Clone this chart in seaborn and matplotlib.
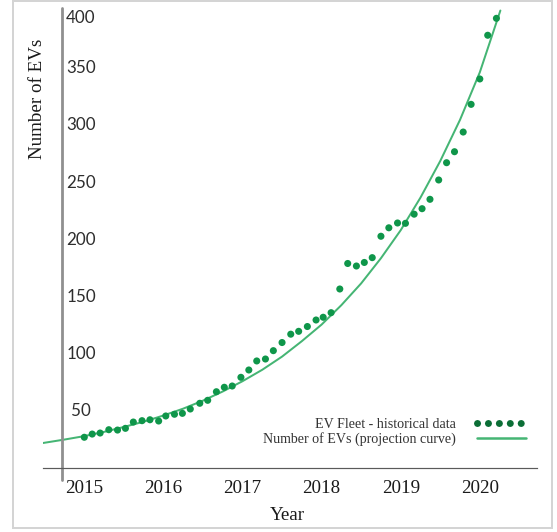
import seaborn as sns
import matplotlib.pyplot as plt
import matplotlib.transforms as mtransforms
from matplotlib.lines import Line2D
from matplotlib.patches import Rectangle
import pandas as pd

# EV fleet - historical data (decimal year, number of EVs)
hist_year = [2015.00, 2015.10, 2015.20, 2015.31, 2015.42, 2015.52, 2015.62, 2015.73,
             2015.83, 2015.94, 2016.03, 2016.14, 2016.24, 2016.34, 2016.46, 2016.56,
             2016.67, 2016.77, 2016.87, 2016.98, 2017.08, 2017.18, 2017.29, 2017.39,
             2017.50, 2017.61, 2017.71, 2017.82, 2017.93, 2018.02, 2018.12, 2018.23,
             2018.33, 2018.44, 2018.54, 2018.64, 2018.75, 2018.85, 2018.96, 2019.06,
             2019.17, 2019.27, 2019.37, 2019.48, 2019.58, 2019.68, 2019.79, 2019.89,
             2020.00, 2020.10, 2020.21]
hist_evs = [26.0, 28.8, 29.7, 32.6, 32.3, 33.8, 39.3, 40.5, 41.3, 40.2,
            44.6, 46.1, 46.9, 50.7, 55.7, 58.3, 65.8, 69.7, 70.8, 78.4,
            84.8, 92.7, 94.4, 101.7, 108.8, 116.1, 118.6, 122.8, 128.5, 130.9,
            134.9, 155.6, 177.9, 175.7, 178.8, 183.0, 201.7, 209.1, 213.3, 213.0,
            221.0, 225.8, 234.0, 250.9, 266.0, 275.6, 292.8, 317.0, 339.2, 377.4,
            392.2]

# projection curve
proj_year = [2014.48, 2014.75, 2015.0, 2015.25, 2015.5, 2015.75, 2016.0, 2016.25,
             2016.5, 2016.75, 2017.0, 2017.25, 2017.5, 2017.75, 2018.0, 2018.25,
             2018.5, 2018.75, 2019.0, 2019.25, 2019.5, 2019.75, 2020.0, 2020.26]
proj_evs = [21, 24, 27, 30.7, 35, 39.6, 45, 51, 58, 66, 75, 85, 96.5, 110,
            124.5, 141.5, 160.5, 182.5, 207, 235.5, 267.5, 303.5, 345, 399]

year_ticks = [2015, 2016, 2017, 2018, 2019, 2020]
ev_ticks = [50, 100, 150, 200, 250, 300, 350, 400]

hist = pd.DataFrame({"year": hist_year, "evs": hist_evs})
proj = pd.DataFrame({"year": proj_year, "evs": proj_evs})

sns.set_style("white")
plt.rcParams['font.family'] = ['Liberation Serif', 'DejaVu Serif']

fig = plt.figure(figsize=(557 / 72, 532 / 72), dpi=72)
ax = fig.add_axes([43 / 557, 64 / 532, 494 / 557, 461 / 532])

sns.lineplot(data=proj, x="year", y="evs", ax=ax, color="#45b574", lw=2)
sns.scatterplot(data=hist, x="year", y="evs", ax=ax, color="#0f964a", s=50,
                edgecolor="none", zorder=3)

ax.set_xlim(2014.478, 2020.723)
ax.set_ylim(-0.87, 402.1)

for s in ["top", "right", "left"]:
    ax.spines[s].set_visible(False)
ax.spines["bottom"].set_color("#5a5a5a")
ax.spines["bottom"].set_linewidth(1.2)

# vertical axis line sits right of the plot edge
ax.axvline(2014.718, ymin=-0.026, ymax=0.998, color="#909090", lw=2.8, clip_on=False)

ax.set_xticks(year_ticks)
ax.set_xticklabels([str(y) for y in year_ticks])
ax.tick_params(axis="x", labelsize=19, length=3, width=1, color="#404040",
               pad=9, labelcolor="#1a1a1a")

ax.set_yticks(ev_ticks)
ax.set_yticklabels([str(v) for v in ev_ticks], family="Lato", fontsize=17, color="#2e2e2e")
ax.tick_params(axis="y", length=0, pad=-38)
labels = ax.get_yticklabels()
for lbl in labels:
    lbl.set_ha("center")
labels[-1].set_transform(labels[-1].get_transform() +
                         mtransforms.ScaledTranslation(0, -7 / 72, fig.dpi_scale_trans))

ax.set_xlabel("Year", fontsize=19, va="center", color="#1a1a1a")
ax.xaxis.set_label_coords(0.494, -0.102)
ax.set_ylabel("Number of EVs", fontsize=19, va="center", color="#1a1a1a")
ax.yaxis.set_label_coords(-0.012, 0.80)

dots = Line2D([], [], color="#0b6e36", lw=7, linestyle=(0, (0.01, 1.55)),
              dash_capstyle="round")
curve = Line2D([], [], color="#45b574", lw=2.5)
leg = ax.legend([dots, curve], ["EV Fleet - historical data", "Number of EVs (projection curve)"],
                markerfirst=False, frameon=False, fontsize=14, handlelength=3.5,
                handletextpad=1.5, labelspacing=0.05, loc="lower right",
                bbox_to_anchor=(526 / 557, 86 / 532), bbox_transform=fig.transFigure,
                borderpad=0, borderaxespad=0)
for t in leg.get_texts():
    t.set_color("#333333")

fig.add_artist(Rectangle((13 / 557, 4 / 532), 539 / 557, 527 / 532, transform=fig.transFigure,
                         fill=False, edgecolor="#d4d4d4", lw=2))

fig.savefig("out.png", dpi=72)
